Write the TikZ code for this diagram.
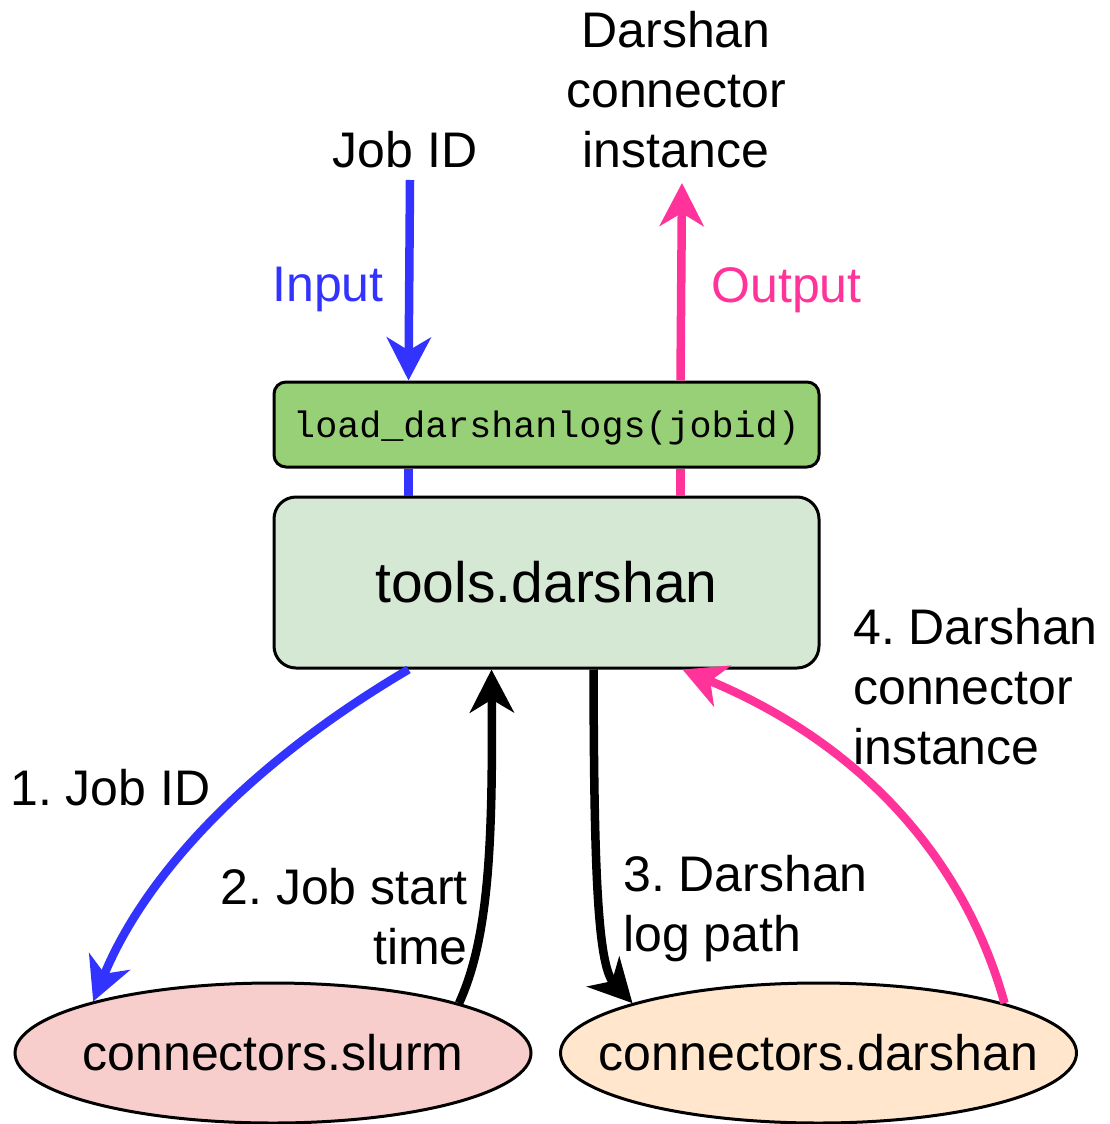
\documentclass[tikz,border=0pt]{standalone}
\usepackage{fontspec}
\setmainfont{Liberation Sans}
\setmonofont{Liberation Mono}
\usetikzlibrary{arrows.meta,shapes.geometric,calc}
\definecolor{cblue}{HTML}{3333FF}
\definecolor{cpink}{HTML}{FF3399}
\definecolor{cgreen}{HTML}{97D077}
\definecolor{clgreen}{HTML}{D5E8D4}
\definecolor{cslurm}{HTML}{F8CECC}
\definecolor{cdarsh}{HTML}{FFE6CC}
\frenchspacing
\begin{document}
\begin{tikzpicture}[x=1pt,y=-1pt,
  lbl/.style={inner sep=0pt, font=\fontsize{50}{60}\selectfont},
  conn/.style={line width=8.5pt, -{Stealth[length=43pt,width=44pt,inset=13pt]}},
  plainline/.style={line width=8.5pt},
  ellnode/.style={ellipse, draw=black, line width=3pt, inner sep=0pt,
    minimum width=516pt, minimum height=140pt}]
\useasboundingbox (0,0) rectangle (1110,1124);

% boxes
\node[draw=black, fill=cgreen, line width=3pt, rounded corners=12pt,
      minimum width=545pt, minimum height=85pt, inner sep=0pt, text depth=0pt,
      font=\ttfamily\fontsize{36.7}{44}\selectfont] (load) at (546.5,424.5) {load\_darshanlogs(jobid)};
\node[draw=black, fill=clgreen, line width=3pt, rounded corners=22pt,
      minimum width=545pt, minimum height=171pt, inner sep=0pt,
      font=\fontsize{57}{68}\selectfont] (tools) at (546.5,582.5) {tools.darshan};
\node[ellnode, fill=cslurm, label={[lbl]center:connectors.slurm}] (slurm) at (273,1053) {};
\node[ellnode, fill=cdarsh, label={[lbl]center:connectors.darshan}] (darsh) at (818.5,1053) {};

% free ends
\coordinate (inTop) at (410,180);
\coordinate (outTop) at (682,183);

% labels
\node[lbl] (jobidlbl) at (405,150) {Job ID};
\node[lbl, align=center] (outlbl) at (676,90) {Darshan\\connector\\instance};
\node[lbl, text=cblue] (inputlbl) at (328,289.5) {Input};
\node[lbl, text=cpink] (outputlbl) at (786.5,290) {Output};
\node[lbl, anchor=west] (l1) at (10,788) {1. Job ID};
\node[lbl, anchor=east, align=right] (l2) at (468,917) {2. Job start\\time};
\node[lbl, anchor=west, align=left] (l3) at (623,908.5) {3. Darshan\\log path};
\node[lbl, anchor=west, align=left] (l4) at (853,687) {4. Darshan\\connector\\instance};

% input / output
\draw[conn, cblue] (inTop) -- ($(load.north west)+(136,0)$);
\draw[plainline, cblue] ($(load.south west)+(136,0)$) -- ($(tools.north west)+(136,0)$);
\draw[conn, cpink] ($(load.north west)+(408,0)$) -- (outTop);
\draw[plainline, cpink] ($(load.south west)+(408,0)$) -- ($(tools.north west)+(408,0)$);

% 1. job id
\draw[conn, cblue] ($(tools.south west)+(136,0)$) .. controls (252,761.7) and (146,872.7) .. (slurm.164.5);
% 2. job start time
\draw[conn, black] (slurm.15.2) .. controls (488,940) and (493,850) .. ($(tools.south west)+(219,0)$);
% 3. darshan log path
\draw[conn, black] ($(tools.south west)+(321,0)$) .. controls (594,860) and (597,965) .. (darsh.165);
% 4. darshan connector instance
\draw[conn, cpink] (darsh.15.2) .. controls (962.7,853.3) and (856.3,741.7) .. ($(tools.south west)+(410,0)$);
\end{tikzpicture}
\end{document}
